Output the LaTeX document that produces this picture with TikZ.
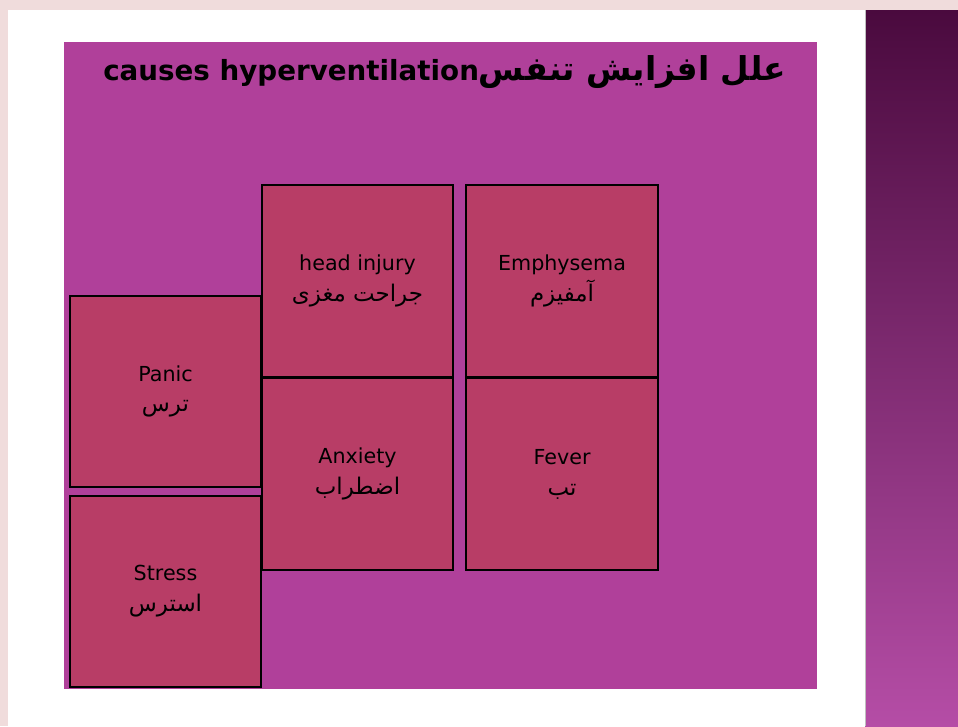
\documentclass[tikz,border=0pt]{standalone}
\usepackage{fontspec}
\setmainfont{DejaVu Sans}
\newfontfamily\arabicfont[Script=Arabic,Scale=1.11]{DejaVu Sans}
\TeXXeTstate=1
\usetikzlibrary{positioning}
\definecolor{slidepink}{HTML}{F0DCDC}
\definecolor{bgmagenta}{HTML}{B0409A}
\definecolor{boxrose}{HTML}{B83D66}
\definecolor{paneltop}{HTML}{4A0A3E}
\definecolor{panelbot}{HTML}{B54DA6}
\tikzset{
	causebox/.style={draw=black,line width=1.4pt,fill=boxrose,minimum width=143.5pt,minimum height=143.5pt,
		inner sep=0pt,align=center,font=\fontsize{15.5}{23}\selectfont},
	titletext/.style={font=\bfseries\fontsize{20.8}{26}\selectfont,inner sep=0pt},
}
\newcommand{\fa}[1]{{\arabicfont\beginR #1\endR}}
\begin{document}
\begin{tikzpicture}[x=0.75pt,y=-0.75pt]
	\useasboundingbox (0,0) rectangle (958,726);
	% slide
	\fill[slidepink] (0,0) rectangle (958,726);
	\fill[white] (8,10) rectangle (865,726);
	\shade[top color=paneltop,bottom color=panelbot] (865,10) rectangle (958,726);
	\draw[gray!50,line width=1pt] (865.5,10) -- (865.5,726);
	% content area
	\fill[bgmagenta] (64,42) rectangle (817,689);
	\node[titletext,anchor=base west] (title) at (103,80)
		{causes hyperventilation{\fontsize{22.2}{26}\selectfont\fa{علل افزایش تنفس}}};
	% boxes
	\node[causebox] (headinj) at (357.5,281) {head injury\\\fa{جراحت مغزی}};
	\node[causebox,below=0pt of headinj] (anxiety) {Anxiety\\\fa{اضطراب}};
	\node[causebox,right=8.5pt of headinj] (emphysema) {Emphysema\\\fa{آمفیزم}};
	\node[causebox,below=0pt of emphysema] (fever) {Fever\\\fa{تب}};
	\node[causebox] (panic) at (165.5,391.5) {Panic\\\fa{ترس}};
	\node[causebox,below=5pt of panic] (stress) {Stress\\\fa{استرس}};
\end{tikzpicture}
\end{document}
